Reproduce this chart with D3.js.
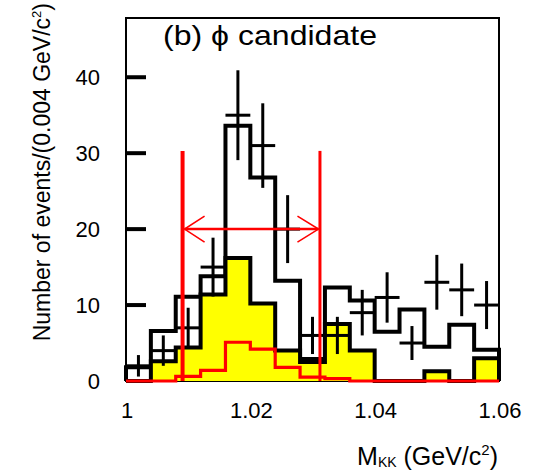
<!doctype html>
<html>
<head>
<meta charset="utf-8">
<title>phi candidate</title>
<script src="https://d3js.org/d3.v7.min.js"></script>
<style>
  body { margin: 0; padding: 0; background: #fff; }
  text { font-family: "Liberation Sans", Arial, Helvetica, sans-serif; fill: #000; }
</style>
</head>
<body>
<svg id="chart" width="537" height="470"></svg>
<script>
// bin centres of M_KK (GeV/c^2), bins are 0.004 wide
const massBins = [1.002, 1.006, 1.010, 1.014, 1.018, 1.022, 1.026, 1.030,
                  1.034, 1.038, 1.042, 1.046, 1.050, 1.054, 1.058];
const binWidth = 0.004;

// data points (events per bin), error = sqrt(n)
const dataCounts = [2, 4, 7, 15, 35, 31, 20, 6, 6, 9, 11, 5, 13, 12, 10];
// open black histogram
const totalHist = [1.8, 6.6, 11.1, 13.8, 33.6, 26.8, 13.2, 2.9, 12.3, 10.6, 6.5, 9.4, 4.5, 7.4, 4.1];
// yellow filled histogram
const yellowHist = [0, 2.6, 4.4, 11.4, 16.2, 10.2, 4.0, 2.5, 7.5, 4.0, 0, 0, 1.3, 0, 3.0];
// red histogram
const redHist = [0, 0, 0.6, 1.4, 5.1, 4.2, 1.8, 0.5, 0.3, 0, 0, 0, 0, 0, 0];

const xTicks = [1.00, 1.02, 1.04, 1.06];
const xTickLabels = ["1", "1.02", "1.04", "1.06"];
const yTicks = [0, 10, 20, 30, 40];

// signal window (red lines + arrow)
const windowEdges = [1.0091, 1.0312];
const windowTop = 30.3;
const arrowLevel = 20;

const svg = d3.select("#chart");
svg.append("rect").attr("width", 537).attr("height", 470).attr("fill", "#fff");

const x = d3.scaleLinear().domain([1.0, 1.06]).range([126, 499]);
const y = d3.scaleLinear().domain([0, 47.8]).range([381, 18]);

// frame
svg.append("rect")
    .attr("x", x(1.0)).attr("y", y(47.8))
    .attr("width", x(1.06) - x(1.0)).attr("height", y(0) - y(47.8))
    .attr("fill", "none").attr("stroke", "#000").attr("stroke-width", 2);

// y ticks (inside) and labels
svg.selectAll(".ytick").data(yTicks).enter().append("line")
    .attr("x1", x(1.0)).attr("x2", x(1.0) + 20)
    .attr("y1", d => y(d)).attr("y2", d => y(d))
    .attr("stroke", "#000").attr("stroke-width", 4);

svg.selectAll(".ylab").data(yTicks).enter().append("text")
    .attr("x", 100).attr("y", d => y(d) + 8)
    .attr("text-anchor", "end").attr("font-size", 22)
    .text(d => d);

svg.selectAll(".xlab").data(xTicks).enter().append("text")
    .attr("x", d => x(d) + 1).attr("y", 418)
    .attr("text-anchor", "middle").attr("font-size", 22)
    .text((d, i) => xTickLabels[i]);

// step outline of a histogram
function stepPath(vals) {
    const p = d3.path();
    p.moveTo(x(massBins[0] - binWidth / 2), y(0));
    vals.forEach((v, i) => {
        p.lineTo(x(massBins[i] - binWidth / 2), y(v));
        p.lineTo(x(massBins[i] + binWidth / 2), y(v));
    });
    p.lineTo(x(massBins[massBins.length - 1] + binWidth / 2), y(0));
    return p.toString();
}

svg.append("path").attr("d", stepPath(totalHist))
    .attr("fill", "none").attr("stroke", "#000").attr("stroke-width", 4)
    .attr("stroke-linejoin", "miter");

// yellow: fill first, then its black outline (no stroke along the baseline)
svg.append("path").attr("d", stepPath(yellowHist) + "Z")
    .attr("fill", "#ffff00").attr("stroke", "none");
svg.append("path").attr("d", stepPath(yellowHist))
    .attr("fill", "none").attr("stroke", "#000").attr("stroke-width", 4)
    .attr("stroke-linejoin", "miter");

svg.append("path").attr("d", stepPath(redHist))
    .attr("fill", "none").attr("stroke", "#ff0000").attr("stroke-width", 3.2);

// data crosses
const pts = svg.append("g").attr("stroke", "#000").attr("stroke-width", 3);
pts.selectAll(".ev").data(dataCounts).enter().append("line")
    .attr("x1", (d, i) => x(massBins[i])).attr("x2", (d, i) => x(massBins[i]))
    .attr("y1", d => y(d - Math.sqrt(d))).attr("y2", d => y(d + Math.sqrt(d)));
pts.selectAll(".eh").data(dataCounts).enter().append("line")
    .attr("x1", (d, i) => x(massBins[i] - binWidth / 2))
    .attr("x2", (d, i) => x(massBins[i] + binWidth / 2))
    .attr("y1", d => y(d)).attr("y2", d => y(d));

// signal window lines
svg.selectAll(".win").data(windowEdges).enter().append("line")
    .attr("x1", d => x(d)).attr("x2", d => x(d))
    .attr("y1", y(0)).attr("y2", y(windowTop))
    .attr("stroke", "#ff0000").attr("stroke-width", (d, i) => i === 0 ? 4 : 3);

// double arrow between the lines
const xl = x(windowEdges[0]) + 2, xr = x(windowEdges[1]) - 1.5, ya = y(arrowLevel);
svg.append("line").attr("x1", xl).attr("x2", xr).attr("y1", ya).attr("y2", ya)
    .attr("stroke", "#ff0000").attr("stroke-width", 2.5);
svg.append("path")
    .attr("d", `M${xl + 20},${ya - 13}L${xl},${ya}L${xl + 20},${ya + 13}` +
               `M${xr - 21},${ya - 13}L${xr},${ya}L${xr - 21},${ya + 13}`)
    .attr("fill", "none").attr("stroke", "#ff0000").attr("stroke-width", 1.6);

// title
svg.append("text").attr("x", 163).attr("y", 45).attr("font-size", 28)
    .attr("textLength", 214).attr("lengthAdjust", "spacingAndGlyphs")
    .text("(b) \u03d5 candidate");

// x axis title
const xt = svg.append("text").attr("x", 498).attr("y", 465)
    .attr("text-anchor", "end").attr("font-size", 25);
xt.append("tspan").text("M");
xt.append("tspan").attr("font-size", 14).attr("dy", 2).text("KK");
xt.append("tspan").attr("dy", -2).text(" (GeV/c");
xt.append("tspan").attr("font-size", 15).attr("dy", -10).text("2");
xt.append("tspan").attr("dy", 10).text(")");

// y axis title
const yt = svg.append("text").attr("transform", "translate(50,3) rotate(-90)")
    .attr("text-anchor", "end").attr("font-size", 23);
yt.append("tspan").text("Number of events/(0.004 GeV/c");
yt.append("tspan").attr("font-size", 13).attr("dy", -9).text("2");
yt.append("tspan").attr("dy", 9).text(")");
</script>
</body>
</html>
